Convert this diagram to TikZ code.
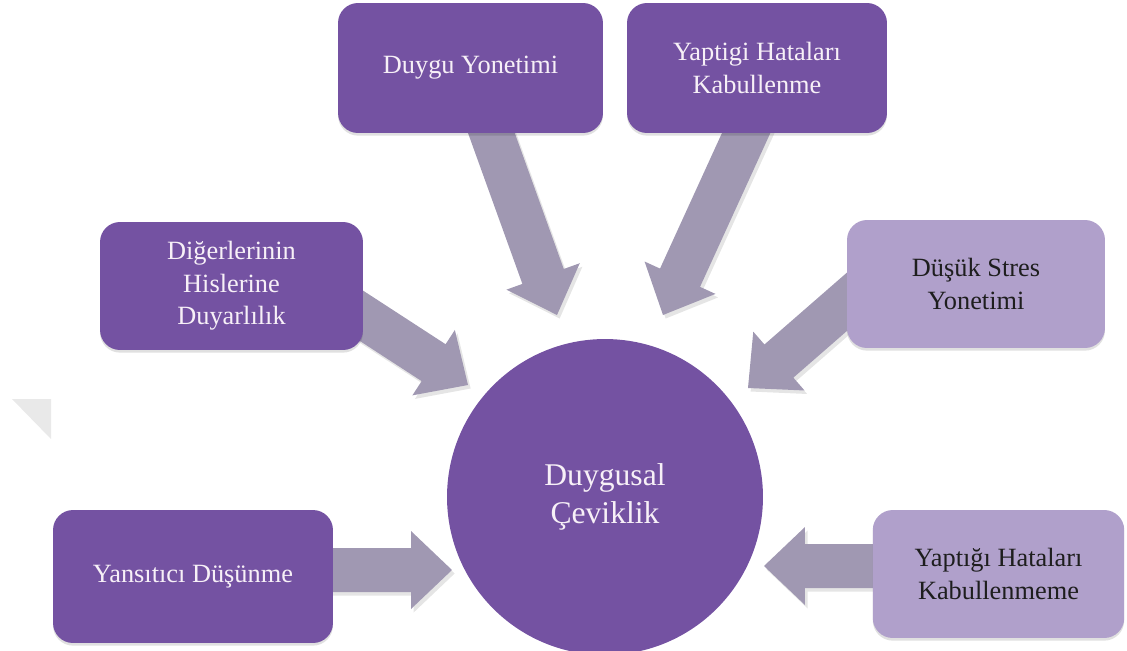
\documentclass[tikz,border=0pt]{standalone}
\usepackage{fontspec}
\setmainfont{Liberation Serif}
\usetikzlibrary{calc,shadows}

\definecolor{deep}{HTML}{7452A2}
\definecolor{pale}{HTML}{B0A0CB}
\definecolor{flow}{HTML}{A098B2}
\definecolor{lighttext}{HTML}{F7F0F7}
\definecolor{darktext}{HTML}{1E1E1E}
\definecolor{wmark}{HTML}{E9E9E9}

\pgfdeclarelayer{bg}
\pgfsetlayers{bg,main}

\tikzset{
  card/.style={rectangle, rounded corners=0.4cm, inner sep=3pt, align=center,
    font=\fontsize{15}{18.5}\selectfont,
    drop shadow={shadow xshift=0pt, shadow yshift=-1.5pt, opacity=0.12, fill=black}},
  darkcard/.style={card, fill=deep, text=lighttext},
  lightcard/.style={card, fill=pale, text=darktext},
  hub/.style={circle, fill=deep, text=lighttext, minimum size=6.32cm, inner sep=0pt,
    align=center, font=\fontsize{18}{22}\selectfont},
  % thick block arrow: shaft half-width 0.44cm, head half-width 0.78cm, head length 0.82cm
  blockarrow/.style={fill=flow,
    preaction={fill=black, opacity=0.10, transform canvas={shift={(1.5pt,-2pt)}}},
    to path={
      ($(\tikztostart)!-14pt!(\tikztotarget)!0.44cm!90:(\tikztotarget)$)
      -- ($(\tikztotarget)!0.82cm!(\tikztostart)!0.44cm!90:(\tikztotarget)$)
      -- ($(\tikztotarget)!0.82cm!(\tikztostart)!0.78cm!90:(\tikztotarget)$)
      -- (\tikztotarget)
      -- ($(\tikztotarget)!0.82cm!(\tikztostart)!0.78cm!-90:(\tikztotarget)$)
      -- ($(\tikztotarget)!0.82cm!(\tikztostart)!0.44cm!-90:(\tikztotarget)$)
      -- ($(\tikztostart)!-14pt!(\tikztotarget)!0.44cm!-90:(\tikztotarget)$)
      -- cycle}}
}

\begin{document}
\begin{tikzpicture}[x=0.02cm, y=-0.02cm]
  \clip (0,0) rectangle (1127,650);

  % faint corner mark on the left edge
  \fill[wmark] (12,399) -- (51,399) -- (51,439) -- cycle;

  % centre
  \node[hub] (hub) at (605,497) {Duygusal\\Çeviklik};

  % surrounding factors
  \node[darkcard, minimum width=5.3cm, minimum height=2.6cm] (duygu) at (470.5,68) {Duygu Yonetimi};
  \node[darkcard, minimum width=5.2cm, minimum height=2.6cm] (kabul) at (757,68) {Yaptigi Hataları\\Kabullenme};
  \node[darkcard, minimum width=5.26cm, minimum height=2.56cm] (diger) at (231.5,286) {Diğerlerinin\\Hislerine\\Duyarlılık};
  \node[lightcard, minimum width=5.16cm, minimum height=2.56cm] (stres) at (976,284) {Düşük Stres\\Yonetimi};
  \node[darkcard, minimum width=5.6cm, minimum height=2.66cm] (yansit) at (193,576.5) {Yansıtıcı Düşünme};
  \node[lightcard, minimum width=5.03cm, minimum height=2.56cm] (redd) at (998.5,574) {Yaptığı Hataları\\Kabullenmeme};

  % arrow tips near the centre
  \coordinate (t1) at (557,315);
  \coordinate (t2) at (663,315);
  \coordinate (t3) at (468,385);
  \coordinate (t4) at (748,388);
  \coordinate (t5) at (452,570);
  \coordinate (t6) at (764,566);

  % block arrows run underneath the boxes
  \begin{pgfonlayer}{bg}
    \path[blockarrow] ($(duygu.south)+(21,0)$) to (t1);
    \path[blockarrow] ($(kabul.south)+(-11,0)$) to (t2);
    \path[blockarrow] ($(diger.east)+(0,31)$) to (t3);
    \path[blockarrow] ($(stres.west)+(0,18)$) to (t4);
    \path[blockarrow] ($(yansit.east)+(0,-6.5)$) to (t5);
    \path[blockarrow] ($(redd.west)+(0,-8)$) to (t6);
  \end{pgfonlayer}
\end{tikzpicture}
\end{document}
